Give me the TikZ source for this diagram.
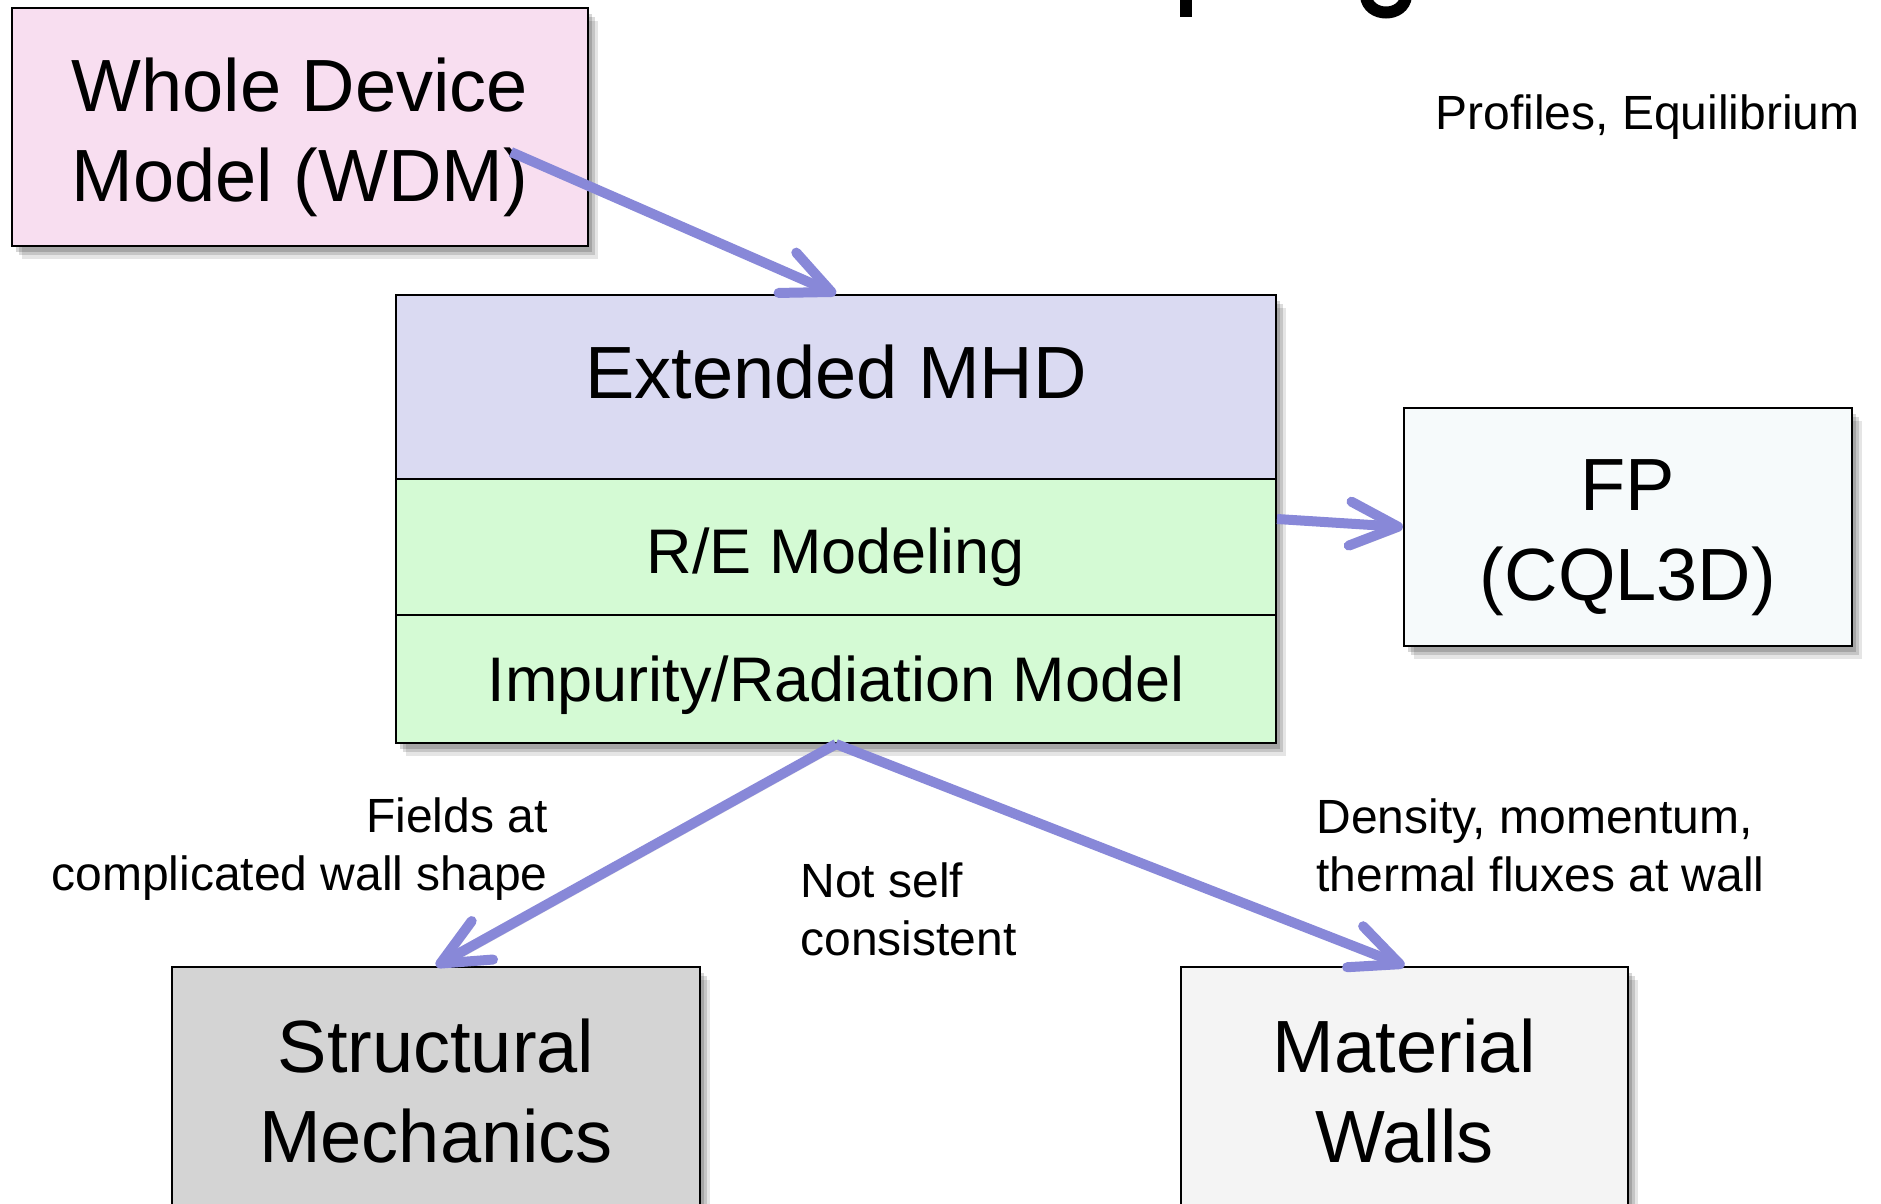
\documentclass[tikz,border=0pt]{standalone}
\usepackage{fontspec}
\setmainfont{Liberation Sans}
\usetikzlibrary{arrows.meta,shadows,calc}
\definecolor{wdmfill}{RGB}{248,222,240}
\definecolor{mhdfill}{RGB}{218,218,242}
\definecolor{grnfill}{RGB}{212,250,212}
\definecolor{fpfill}{RGB}{246,250,251}
\definecolor{smfill}{RGB}{212,212,212}
\definecolor{mwfill}{RGB}{244,244,244}
\definecolor{arrowcol}{RGB}{136,136,216}
\begin{document}
\begin{tikzpicture}[x=0.5pt,y=-0.5pt,
  box/.style={draw=black, line width=1pt, inner sep=0pt, align=center,
    font=\fontsize{37}{45}\selectfont},
  boxtext/.style={inner sep=0pt, align=center, font=\fontsize{37}{45}\selectfont},
  sect/.style={box, font=\fontsize{31.5}{38}\selectfont, minimum width=440pt},
  softshadow/.style={
    general shadow={shadow xshift=2pt, shadow yshift=-3pt, fill=black, opacity=0.16},
    general shadow={shadow xshift=3.5pt, shadow yshift=-4.5pt, fill=black, opacity=0.14},
    general shadow={shadow xshift=5pt, shadow yshift=-6.5pt, fill=black, opacity=0.1}},
  flow/.style={draw=arrowcol, line width=5pt,
    -{Straight Barb[length=24pt,width=22pt,round]},
    preaction={draw=black, opacity=0.12, transform canvas={xshift=1.5pt,yshift=-2pt}}},
  lbl/.style={inner sep=0pt, font=\fontsize{24}{29}\selectfont}]
\useasboundingbox (0,0) rectangle (1881,1204);

% fragments of the clipped title
\fill[black] (1180,-5) rectangle (1192,17);
\draw[black, line width=6pt] (1366,-4) .. controls (1368,18) and (1404,18) .. (1406,-4);

% boxes
\node[box, fill=wdmfill, softshadow, minimum width=288pt, minimum height=119pt] (wdm) at (300,127) {};
\node[boxtext] (wdmt) at ($(wdm.center)+(0,10)$) {Whole Device\\Model (WDM)};

\node[box, fill=white, softshadow, minimum width=440pt, minimum height=224pt] (block) at (836,519) {};
\node[sect, fill=mhdfill, minimum height=92pt, text depth=15pt, font=\fontsize{37}{45}\selectfont] (mhd) at (836,387) {Extended MHD};
\node[sect, fill=grnfill, minimum height=68pt, text height=26.5pt, text depth=0pt] (re) at (836,547) {R/E Modeling};
\node[sect, fill=grnfill, minimum height=64pt, text height=22pt, text depth=0pt] (imp) at (836,679) {Impurity/Radiation Model};

\node[box, fill=fpfill, softshadow, minimum width=224pt, minimum height=119pt] (fp) at (1628,527) {};
\node[boxtext] (fpt) at ($(fp.center)+(0,11)$) {FP\\(CQL3D)};

\node[box, fill=smfill, softshadow, minimum width=264pt, minimum height=124pt] (sm) at (436,1091) {Structural\\Mechanics};
\node[box, fill=mwfill, softshadow, minimum width=223.5pt, minimum height=124pt] (mw) at (1404.5,1091) {Material\\Walls};

% labels
\node[lbl, anchor=base east] (lprof) at (1860,130) {Profiles, Equilibrium};
\node[lbl, align=right, anchor=north east] (lfield) at (548,797) {Fields at\\complicated wall shape};
\node[lbl, align=left, anchor=north west] (lnot) at (800,862) {Not self\\consistent};
\node[lbl, align=left, anchor=north west] (ldens) at (1316,798) {Density, momentum,\\thermal fluxes at wall};

% connectors
\draw[flow] ($(wdm.east)+(-78,25)$) -- (mhd.north);
\draw[flow] (block.east) -- (fp.west);
\draw[flow] (block.south) -- (sm.north);
\draw[flow] (block.south) -- (mw.north);
\end{tikzpicture}
\end{document}
